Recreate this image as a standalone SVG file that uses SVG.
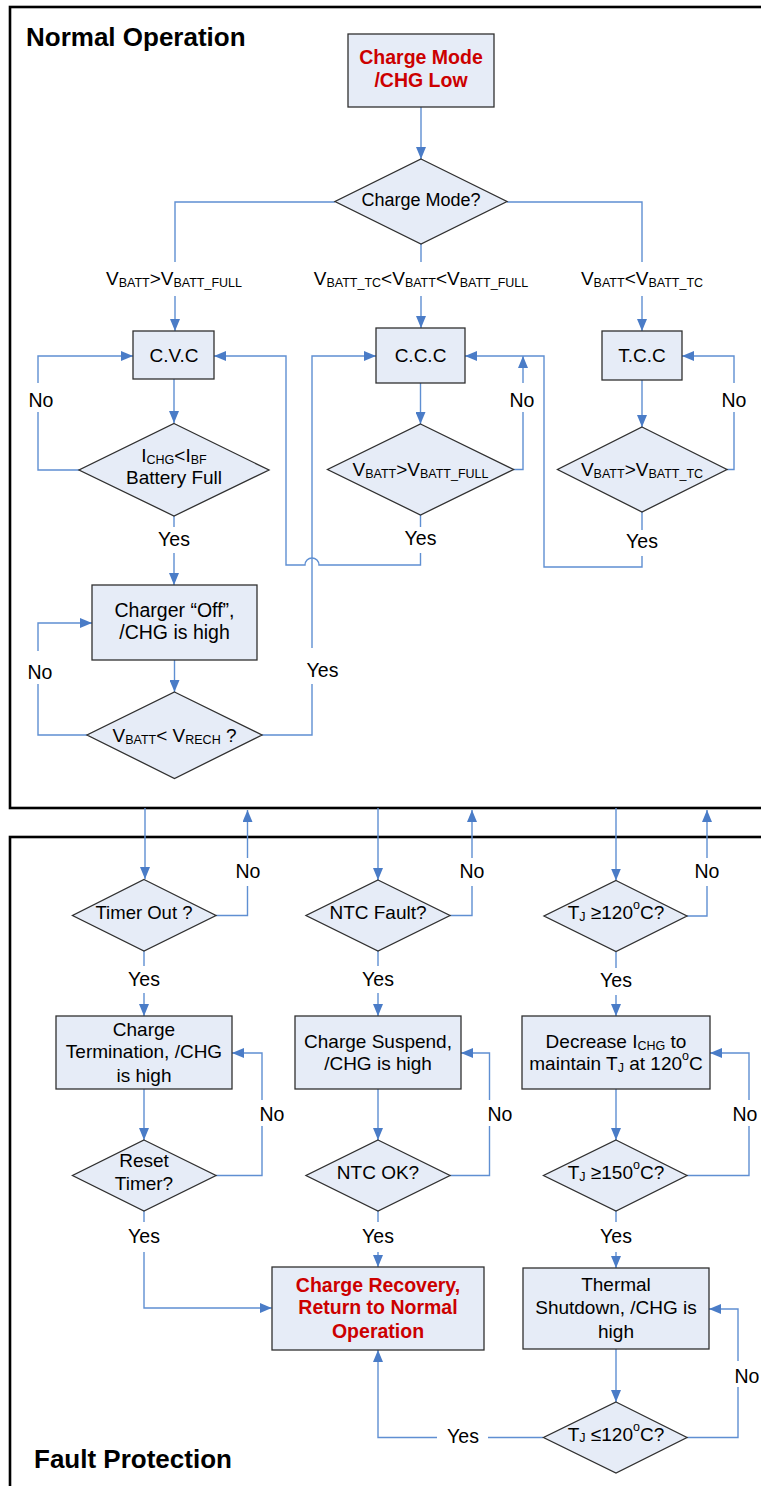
<svg xmlns="http://www.w3.org/2000/svg" width="761" height="1486" viewBox="0 0 761 1486">
<style>
.frame{fill:none;stroke:#000;stroke-width:2.6}
.box{fill:#e6ecf7;stroke:#303030;stroke-width:1.3}
.c{fill:none;stroke:#5f8fd2;stroke-width:1.4}
.a{marker-end:url(#ah)}
.t{font-family:"Liberation Sans",Arial,sans-serif;font-size:19px;fill:#000;text-anchor:middle}
.lb{font-family:"Liberation Sans",Arial,sans-serif;font-size:19.5px;fill:#000;text-anchor:middle}
.r{font-weight:bold;fill:#cc0000;font-size:19.5px}
.h{font-family:"Liberation Sans",Arial,sans-serif;font-size:26px;font-weight:bold;fill:#000}
.s{font-size:12.5px}
</style>
<defs>
<marker id="ah" viewBox="0 0 12 10" refX="12" refY="5" markerWidth="12" markerHeight="10" markerUnits="userSpaceOnUse" orient="auto"><path d="M0,0 L12,5 L0,10 z" fill="#4a7cc7"/></marker>
</defs>
<rect width="761" height="1486" fill="#fff"/>
<g id="frames">
<rect class="frame" x="10" y="7" width="762" height="801"/>
<rect class="frame" x="10" y="837" width="762" height="670"/>
<text class="h" x="26" y="46">Normal Operation</text>
<text class="h" x="34" y="1468">Fault Protection</text>
</g>
<g id="connectors">
<path class="c a" d="M421,107 V159"/>
<path class="c" d="M335,202 H175 V262"/>
<path class="c a" d="M175,296 V331"/>
<path class="c" d="M421,244 V262"/>
<path class="c a" d="M421,296 V328"/>
<path class="c" d="M507,202 H642 V262"/>
<path class="c a" d="M642,296 V331"/>
<path class="c a" d="M174,379 V423"/>
<path class="c" d="M79,470 H38 V412"/>
<path class="c a" d="M38,383 V356 H133"/>
<path class="c" d="M174,516 V527"/>
<path class="c a" d="M174,553 V585"/>
<path class="c a" d="M420.5,383 V424"/>
<path class="c" d="M513,469.5 H523 V412"/>
<path class="c a" d="M523,383 V356"/>
<path class="c" d="M420.5,515 V527"/>
<path class="c a" d="M420.5,553 V565 H319 A7,7 0 0 0 305,565 H286 V356 H214"/>
<path class="c a" d="M642,380 V427"/>
<path class="c" d="M727,469.5 H734 V412"/>
<path class="c a" d="M734,383 V356 H682"/>
<path class="c" d="M642,512 V530"/>
<path class="c a" d="M642,556 V567 H544 V356 H465"/>
<path class="c a" d="M174.5,660 V692"/>
<path class="c" d="M87,735 H38 V684"/>
<path class="c a" d="M38,651 V623 H92"/>
<path class="c" d="M262,735 H312 V684"/>
<path class="c a" d="M312,648 V356 H376"/>
<path class="c a" d="M145,808 V879"/>
<path class="c" d="M216,915.5 H247.5 V886"/>
<path class="c a" d="M247.5,858 V810"/>
<path class="c a" d="M378,808 V880"/>
<path class="c" d="M450,915.5 H472 V886"/>
<path class="c a" d="M472,858 V810"/>
<path class="c a" d="M616,808 V880.5"/>
<path class="c" d="M687,916 H707 V886"/>
<path class="c a" d="M707,858 V810"/>
<path class="c" d="M144,951 V966"/>
<path class="c a" d="M144,993 V1016"/>
<path class="c a" d="M144,1089 V1140"/>
<path class="c" d="M216,1175.5 H262 V1126"/>
<path class="c a" d="M262,1100 V1053 H232"/>
<path class="c" d="M144,1211 V1222"/>
<path class="c a" d="M144,1252 V1308 H271.7"/>
<path class="c" d="M378,951 V966"/>
<path class="c a" d="M378,993 V1016"/>
<path class="c a" d="M378,1089 V1140"/>
<path class="c" d="M450,1175.5 H489.5 V1126"/>
<path class="c a" d="M489.5,1100 V1053 H461"/>
<path class="c" d="M378,1211 V1222"/>
<path class="c a" d="M378,1252 V1267"/>
<path class="c" d="M616,952 V968"/>
<path class="c a" d="M616,995 V1016"/>
<path class="c a" d="M616,1089 V1140"/>
<path class="c" d="M687,1175.5 H749 V1126"/>
<path class="c a" d="M749,1100 V1053 H710"/>
<path class="c" d="M616,1211 V1222"/>
<path class="c a" d="M616,1252 V1268"/>
<path class="c a" d="M616,1349 V1402"/>
<path class="c" d="M687,1437.5 H738 V1387"/>
<path class="c a" d="M738,1361 V1309 H709"/>
<path class="c" d="M543,1437.5 H488"/>
<path class="c a" d="M437,1437.5 H378 V1350"/>
</g>
<g id="labels">
<text class="t" x="174" y="285">V<tspan class="s" dy="2">BATT</tspan><tspan dy="-2">&gt;V</tspan><tspan class="s" dy="2">BATT_FULL</tspan></text>
<text class="t" x="421" y="285">V<tspan class="s" dy="2">BATT_TC</tspan><tspan dy="-2">&lt;V</tspan><tspan class="s" dy="2">BATT</tspan><tspan dy="-2">&lt;V</tspan><tspan class="s" dy="2">BATT_FULL</tspan></text>
<text class="t" x="642" y="285">V<tspan class="s" dy="2">BATT</tspan><tspan dy="-2">&lt;V</tspan><tspan class="s" dy="2">BATT_TC</tspan></text>
<text class="lb" x="41" y="406.5">No</text>
<text class="lb" x="522" y="406.5">No</text>
<text class="lb" x="734" y="406.5">No</text>
<text class="lb" x="174" y="545.5">Yes</text>
<text class="lb" x="420.5" y="545">Yes</text>
<text class="lb" x="642" y="548">Yes</text>
<text class="lb" x="40" y="678.5">No</text>
<text class="lb" x="322.5" y="676.5">Yes</text>
<text class="lb" x="248" y="877.5">No</text>
<text class="lb" x="472" y="877.5">No</text>
<text class="lb" x="707" y="877.5">No</text>
<text class="lb" x="144" y="985.5">Yes</text>
<text class="lb" x="378" y="985.5">Yes</text>
<text class="lb" x="616" y="987">Yes</text>
<text class="lb" x="272" y="1120.5">No</text>
<text class="lb" x="500" y="1120.5">No</text>
<text class="lb" x="745" y="1120.5">No</text>
<text class="lb" x="144" y="1243">Yes</text>
<text class="lb" x="378" y="1243">Yes</text>
<text class="lb" x="616" y="1243">Yes</text>
<text class="lb" x="747" y="1382.5">No</text>
<text class="lb" x="463" y="1443">Yes</text>
</g>
<g id="n-start">
<rect class="box" x="348" y="34" width="146" height="73"/>
<text class="t r" x="421" y="64">Charge Mode</text>
<text class="t r" x="421" y="87">/CHG Low</text>
</g>
<g id="n-mode">
<polygon class="box" points="421,159 507,201.5 421,244 335,201.5"/>
<text class="t" x="421" y="206" style="font-size:18px">Charge Mode?</text>
</g>
<g id="n-cvc">
<rect class="box" x="133" y="331" width="81" height="48"/>
<text class="t" x="174" y="361.7">C.V.C</text>
</g>
<g id="n-ccc">
<rect class="box" x="376" y="328" width="89" height="55"/>
<text class="t" x="420.5" y="361.7">C.C.C</text>
</g>
<g id="n-tcc">
<rect class="box" x="602" y="331" width="80" height="49"/>
<text class="t" x="642" y="361.7">T.C.C</text>
</g>
<g id="n-full">
<polygon class="box" points="174,423.5 269,470 174,516 79,470"/>
<text class="t" x="174" y="461.7">I<tspan class="s" dy="2">CHG</tspan><tspan dy="-2">&lt;I</tspan><tspan class="s" dy="2">BF</tspan></text>
<text class="t" x="174" y="484.3">Battery Full</text>
</g>
<g id="n-cccq">
<polygon class="box" points="420.5,424 513.5,469.5 420.5,515 327.5,469.5"/>
<text class="t" x="420.5" y="475.5">V<tspan class="s" dy="2">BATT</tspan><tspan dy="-2">&gt;V</tspan><tspan class="s" dy="2">BATT_FULL</tspan></text>
</g>
<g id="n-tccq">
<polygon class="box" points="642,427 727,469.5 642,512 557.5,469.5"/>
<text class="t" x="642" y="475.5">V<tspan class="s" dy="2">BATT</tspan><tspan dy="-2">&gt;V</tspan><tspan class="s" dy="2">BATT_TC</tspan></text>
</g>
<g id="n-off">
<rect class="box" x="92" y="585" width="165" height="75"/>
<text class="t" x="174.5" y="616.7" style="font-size:19.5px">Charger “Off”,</text>
<text class="t" x="174.5" y="639.3" style="font-size:19.5px">/CHG is high</text>
</g>
<g id="n-rech">
<polygon class="box" points="174.5,692 262,735 174.5,778.5 87,735"/>
<text class="t" x="174.5" y="741.7">V<tspan class="s" dy="2">BATT</tspan><tspan dy="-2">&lt; V</tspan><tspan class="s" dy="2">RECH</tspan><tspan dy="-2"> ?</tspan></text>
</g>
<g id="n-timer">
<polygon class="box" points="144,879.5 216,915.5 144,951 72.5,915.5"/>
<text class="t" x="144" y="919.3" style="font-size:18.5px">Timer Out ?</text>
</g>
<g id="n-ntc">
<polygon class="box" points="378,880 450,915.5 378,951 306,915.5"/>
<text class="t" x="378" y="919.3">NTC Fault?</text>
</g>
<g id="n-tj120">
<polygon class="box" points="616,880.5 687,916 616,951.5 544,916"/>
<text class="t" x="616" y="919.3">T<tspan class="s" dy="1.5">J</tspan><tspan dy="-1.5"> ≥120</tspan><tspan class="s" dy="-10">o</tspan><tspan dy="10">C?</tspan></text>
</g>
<g id="n-term">
<rect class="box" x="56" y="1016" width="176" height="73"/>
<text class="t" x="144" y="1036">Charge</text>
<text class="t" x="144" y="1058.3">Termination, /CHG</text>
<text class="t" x="144" y="1081.7">is high</text>
</g>
<g id="n-susp">
<rect class="box" x="295" y="1016" width="166" height="73"/>
<text class="t" x="378" y="1047.7">Charge Suspend,</text>
<text class="t" x="378" y="1070">/CHG is high</text>
</g>
<g id="n-decr">
<rect class="box" x="522" y="1016" width="188" height="73"/>
<text class="t" x="616" y="1047.7">Decrease I<tspan class="s" dy="2">CHG</tspan><tspan dy="-2"> to</tspan></text>
<text class="t" x="616" y="1070">maintain T<tspan class="s" dy="1.5">J</tspan><tspan dy="-1.5"> at 120</tspan><tspan class="s" dy="-10">o</tspan><tspan dy="10">C</tspan></text>
</g>
<g id="n-reset">
<polygon class="box" points="144,1140 216,1175.5 144,1211 72.5,1175.5"/>
<text class="t" x="144" y="1167.3">Reset</text>
<text class="t" x="144" y="1190">Timer?</text>
</g>
<g id="n-ntcok">
<polygon class="box" points="378,1140 450,1175.5 378,1211 306,1175.5"/>
<text class="t" x="378" y="1179">NTC OK?</text>
</g>
<g id="n-tj150">
<polygon class="box" points="616,1140 687,1175.5 616,1211 543.5,1175.5"/>
<text class="t" x="616" y="1179">T<tspan class="s" dy="1.5">J</tspan><tspan dy="-1.5"> ≥150</tspan><tspan class="s" dy="-10">o</tspan><tspan dy="10">C?</tspan></text>
</g>
<g id="n-recov">
<rect class="box" x="272" y="1267" width="212" height="83"/>
<text class="t r" x="378" y="1291.7">Charge Recovery,</text>
<text class="t r" x="378" y="1314.3">Return to Normal</text>
<text class="t r" x="378" y="1337.7">Operation</text>
</g>
<g id="n-shut">
<rect class="box" x="523" y="1268" width="186" height="81"/>
<text class="t" x="616" y="1291.3">Thermal</text>
<text class="t" x="616" y="1314.3">Shutdown, /CHG is</text>
<text class="t" x="616" y="1337.7">high</text>
</g>
<g id="n-tjle">
<polygon class="box" points="616,1402 687,1437.5 616,1473 543.5,1437.5"/>
<text class="t" x="616" y="1440.5">T<tspan class="s" dy="1.5">J</tspan><tspan dy="-1.5"> ≤120</tspan><tspan class="s" dy="-10">o</tspan><tspan dy="10">C?</tspan></text>
</g>
</svg>
